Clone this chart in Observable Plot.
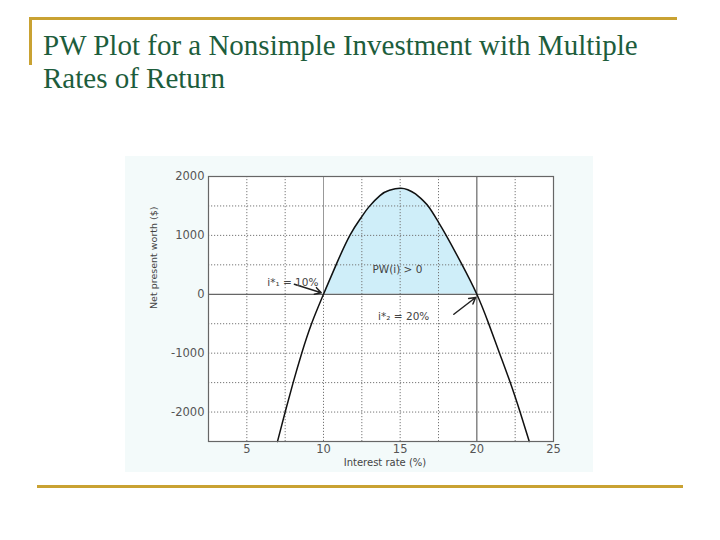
<!DOCTYPE html>
<html>
<head>
<meta charset="utf-8">
<script src="https://cdn.jsdelivr.net/npm/d3@7"></script>
<script src="https://cdn.jsdelivr.net/npm/@observablehq/plot@0.6"></script>
<style>
  html, body { margin: 0; padding: 0; background: #ffffff; }
  body { width: 720px; height: 540px; position: relative; overflow: hidden; }
  .gold { position: absolute; background: #c9a232; }
  #title { position: absolute; left: 43px; top: 29px; font-family: "Liberation Serif", "Times New Roman", serif;
           font-size: 29px; line-height: 33px; color: #1d5d3c; white-space: nowrap; }
  #chart { position: absolute; left: 125px; top: 156px; }
</style>
</head>
<body>
<div class="gold" style="left:29px; top:17px; width:648px; height:3px;"></div>
<div class="gold" style="left:29px; top:17px; width:3px; height:48px;"></div>
<div class="gold" style="left:37px; top:485px; width:646px; height:3px;"></div>
<div id="title">PW Plot for a Nonsimple Investment with Multiple<br>Rates of Return</div>
<div id="chart"></div>
<script>
// Interest rate (%) and present worth ($)
const rate = [7.0, 7.5, 8.02, 8.58, 9.22, 10.0, 10.82, 11.72, 12.45, 12.95, 13.7, 14.3, 15.0, 15.5, 16.0, 16.5, 16.92, 17.45, 18.0, 19.0, 20.0, 20.76, 21.48, 22.18, 22.82, 23.42];
const pw   = [-2500, -2000, -1500, -1000, -500, 0, 500, 1000, 1300, 1480, 1680, 1765, 1800, 1775, 1705, 1590, 1465, 1245, 1000, 520, 0, -490, -1000, -1500, -2000, -2500];

const xTicks = [5, 10, 15, 20, 25];
const yTicks = [-2000, -1000, 0, 1000, 2000];
const gridX = [5, 7.5, 12.5, 15, 17.5, 22.5];
const gridY = [-2000, -1500, -1000, -500, 500, 1000, 1500];

const xLabel = "Interest rate (%)";
const yLabel = "Net present worth ($)";

// annotations
const noteText = ["i*\u2081 = 10%", "PW(i) > 0", "i*\u2082 = 20%"];
const noteX = [8.0, 14.82, 15.23];
const noteY = [200, 424, -380];
const noteAnchor = ["end", "middle", "start"];
const arrowX1 = [8.1, 18.5];
const arrowY1 = [170, -339];
const arrowX2 = [9.85, 19.92];
const arrowY2 = [25, -55];

const curve = rate.map((r, i) => ({rate: r, pw: pw[i]}));
const positive = curve.filter(d => d.pw >= 0 && d.rate >= 10 && d.rate <= 20);
const notes = noteText.map((t, i) => ({t, x: noteX[i], y: noteY[i], a: noteAnchor[i]}));
const arrows = arrowX1.map((x, i) => ({x1: x, y1: arrowY1[i], x2: arrowX2[i], y2: arrowY2[i]}));

const sans = "'DejaVu Sans', sans-serif";

const chart = Plot.plot({
  width: 468,
  height: 316,
  marginLeft: 83,
  marginTop: 20,
  marginRight: 40,
  marginBottom: 31,
  style: { background: "#f3fafa", fontFamily: sans, fontSize: "11.5px", color: "#555" },
  x: { domain: [2.5, 25], ticks: xTicks, tickSize: 0, tickPadding: 3, label: null, tickFormat: d => String(d) },
  y: { domain: [-2500, 2000], ticks: yTicks, tickSize: 0, tickPadding: 4, label: null, tickFormat: d => String(d) },
  marks: [
    Plot.frame({ fill: "white" }),
    Plot.areaY(positive, { x: "rate", y: "pw", fill: "#cfeef9", curve: "natural" }),
    Plot.ruleX(gridX, { stroke: "#777", strokeDasharray: "1.2,1.8", strokeWidth: 1 }),
    Plot.ruleX([10], { y1: -2500, y2: 0, stroke: "#777", strokeDasharray: "1.2,1.8", strokeWidth: 1 }),
    Plot.ruleX([10], { y1: 0, y2: 2000, stroke: "#999", strokeWidth: 1 }),
    Plot.ruleY(gridY, { stroke: "#777", strokeDasharray: "1.2,1.8", strokeWidth: 1 }),
    Plot.ruleY([0], { stroke: "#666", strokeWidth: 1.2 }),
    Plot.ruleX([20], { stroke: "#666", strokeWidth: 1.2 }),
    Plot.line(curve, { x: "rate", y: "pw", stroke: "#111", strokeWidth: 1.5, curve: "natural" }),
    Plot.frame({ stroke: "#666", strokeWidth: 1.2 }),
    Plot.arrow(arrows, { x1: "x1", y1: "y1", x2: "x2", y2: "y2", stroke: "#222", strokeWidth: 1.5, headLength: 7 }),
    Plot.text(notes, { x: "x", y: "y", text: "t", textAnchor: "a", fill: "#444", fontSize: 10.5, fontFamily: sans }),
    Plot.text([xLabel], { frameAnchor: "bottom", dy: 24, dx: 4, fill: "#444", fontSize: 10, fontFamily: sans }),
    Plot.text([yLabel], { frameAnchor: "left", dx: -55, rotate: -90, fill: "#444", fontSize: 9.5, fontFamily: sans })
  ]
});
document.getElementById("chart").appendChild(chart);
</script>
</body>
</html>
